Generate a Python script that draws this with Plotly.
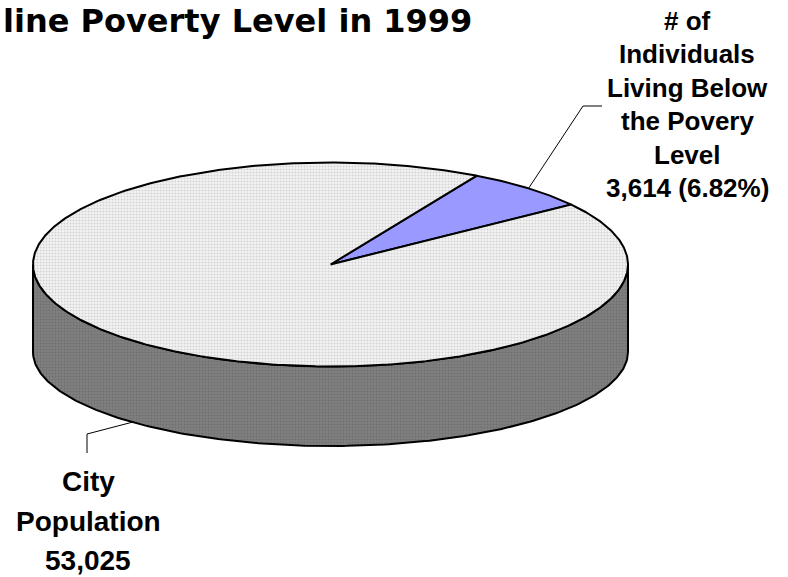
import numpy as np
import plotly.graph_objects as go

# ---- data -------------------------------------------------------------
categories = ["City Population", "# of Individuals Living Below the Povery Level"]
city_population = 53025
below_poverty = 3614
slice_values = [below_poverty, city_population - below_poverty]
poverty_pct = below_poverty / city_population * 100

title_text = "line Poverty Level in 1999"
poverty_label_lines = ["# of", "Individuals", "Living Below", "the Povery", "Level",
                       f"{below_poverty:,} ({poverty_pct:.2f}%)"]
city_label_lines = ["City", "Population", f"{city_population:,}"]

# ---- 3-D pie geometry (pixel space of the 788x577 canvas) --------------
W, H = 788, 577
CX, RX = 330.5, 297.5
CY_TOP, RY_TOP = 264.5, 102.0      # top face ellipse
CY_BOT, RY_BOT = 352.0, 94.0       # bottom rim ellipse (perspective)
START_ANGLE = 36.0                 # where the first wedge starts (deg, ccw)

top_fill = dict(shape=".", bgcolor="#f4f4f4", fgcolor="#b0b0b0", size=3, solidity=0.35)
side_fill = dict(shape=".", bgcolor="#808080", fgcolor="#5e5e5e", size=3, solidity=0.35)
slice_top_styles = [dict(fillcolor="#9999FF"), dict(fillpattern=top_fill, fillcolor="#f4f4f4")]


def top_pt(a):
    r = np.radians(a)
    return CX + RX * np.cos(r), CY_TOP - RY_TOP * np.sin(r)


def bot_pt(a):
    r = np.radians(a)
    return CX + RX * np.cos(r), CY_BOT - RY_BOT * np.sin(r)


total = sum(slice_values)
bounds = []
a = START_ANGLE
for v in slice_values:
    span = v / total * 360.0
    bounds.append((a, a + span))
    a += span

fig = go.Figure()

# visible (front) part of the cylinder wall for each wedge
for (a0, a1) in bounds:
    for k in range(-1, 3):
        lo, hi = 180 + 360 * k, 360 + 360 * k
        s, e = max(a0, lo), min(a1, hi)
        if e <= s:
            continue
        ang = np.linspace(s, e, 200)
        tx, ty = top_pt(ang)
        bx, by = bot_pt(ang[::-1])
        fig.add_trace(go.Scatter(
            x=np.concatenate([tx, bx, tx[:1]]), y=np.concatenate([ty, by, ty[:1]]),
            mode="lines", fill="toself", fillpattern=side_fill, fillcolor="#808080",
            line=dict(color="black", width=2), hoverinfo="skip", showlegend=False))

# top faces of the wedges
for (a0, a1), style, name in zip(bounds, slice_top_styles, categories):
    ang = np.linspace(a0, a1, max(int((a1 - a0) * 2), 20))
    tx, ty = top_pt(ang)
    fig.add_trace(go.Scatter(
        x=np.concatenate([[CX], tx, [CX]]), y=np.concatenate([[CY_TOP], ty, [CY_TOP]]),
        mode="lines", fill="toself", line=dict(color="black", width=2),
        name=name, hoverinfo="name", showlegend=False, **style))

# leader lines from wedge mid-angles to their labels
mid_pov = np.mean(bounds[0])
mid_city = np.mean(bounds[1])
px0, py0 = top_pt(mid_pov)
fig.add_trace(go.Scatter(x=[px0, 583, 602], y=[py0, 106, 106], mode="lines",
                         line=dict(color="black", width=1), hoverinfo="skip", showlegend=False))
cx0, cy0 = bot_pt(mid_city)
fig.add_trace(go.Scatter(x=[cx0, 87, 87], y=[cy0, 434, 453], mode="lines",
                         line=dict(color="black", width=1), hoverinfo="skip", showlegend=False))

label_font = "Arial, Liberation Sans, sans-serif"
annotations = []
for i, line in enumerate(poverty_label_lines):
    fs = 26
    annotations.append(dict(x=687, y=30 + 33.5 * i - 0.36 * fs, text=f"<b>{line}</b>",
                            xref="x", yref="y", showarrow=False, xanchor="center", yanchor="middle",
                            font=dict(family=label_font, size=fs, color="black")))
for i, line in enumerate(city_label_lines):
    fs = 28
    annotations.append(dict(x=88, y=492 + 39.5 * i - 0.36 * fs, text=f"<b>{line}</b>",
                            xref="x", yref="y", showarrow=False, xanchor="center", yanchor="middle",
                            font=dict(family=label_font, size=fs, color="black")))
annotations.append(dict(x=1, y=0, text=f"<b>{title_text}</b>", xref="x", yref="y",
                        showarrow=False, xanchor="left", yanchor="top",
                        font=dict(family="DejaVu Sans, sans-serif", size=32, color="black")))

fig.update_layout(
    width=W, height=H, margin=dict(l=0, r=0, t=0, b=0),
    paper_bgcolor="white", plot_bgcolor="white",
    xaxis=dict(range=[0, W], visible=False, fixedrange=True),
    yaxis=dict(range=[H, 0], visible=False, fixedrange=True),
    annotations=annotations, showlegend=False,
)

fig.write_html("out.html")
